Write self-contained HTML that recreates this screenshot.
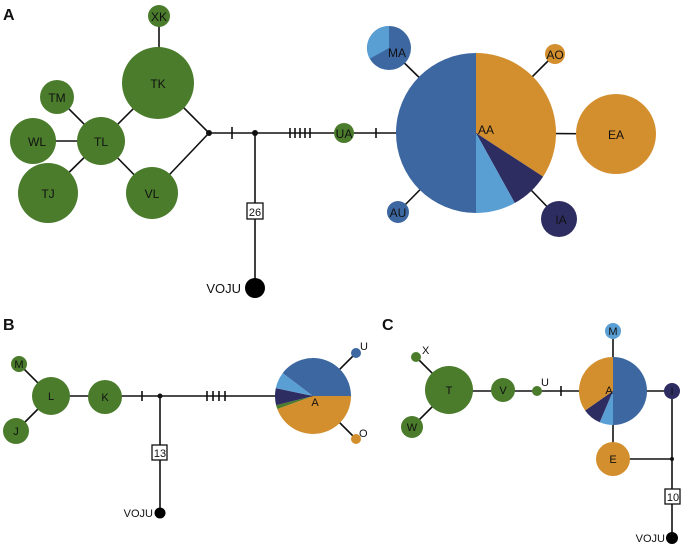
<!DOCTYPE html>
<html><head><meta charset="utf-8"><style>
html,body{margin:0;padding:0;background:#fff;}
svg{display:block;}
text{font-family:"Liberation Sans",Arial,sans-serif;fill:#111;}
</style></head><body>
<svg width="683" height="547" viewBox="0 0 683 547" xmlns="http://www.w3.org/2000/svg">
<g stroke="#111" stroke-width="1.6" fill="none">
<!-- Panel A lines -->
<line x1="159" y1="16" x2="159" y2="82"/>
<line x1="57" y1="97" x2="101" y2="141"/>
<line x1="33" y1="141" x2="101" y2="141"/>
<line x1="48" y1="193" x2="101" y2="141"/>
<line x1="101" y1="141" x2="159" y2="83"/>
<line x1="101" y1="141" x2="152" y2="193"/>
<line x1="159" y1="83" x2="209" y2="133"/>
<line x1="152" y1="193" x2="209" y2="133"/>
<line x1="209" y1="133" x2="476" y2="133"/>
<line x1="255" y1="133" x2="255" y2="288"/>
<line x1="476" y1="133" x2="616" y2="134"/>
<line x1="389" y1="48" x2="476" y2="133"/>
<line x1="555" y1="54" x2="476" y2="133"/>
<line x1="559" y1="219" x2="476" y2="133"/>
<line x1="398" y1="212" x2="476" y2="133"/>
<line x1="232" y1="127" x2="232" y2="139"/>
<line x1="290" y1="128" x2="290" y2="138"/>
<line x1="295" y1="128" x2="295" y2="138"/>
<line x1="300" y1="128" x2="300" y2="138"/>
<line x1="305" y1="128" x2="305" y2="138"/>
<line x1="310" y1="128" x2="310" y2="138"/>
<line x1="376" y1="128" x2="376" y2="138"/>
<!-- Panel B lines -->
<line x1="19" y1="364" x2="51" y2="396"/>
<line x1="16" y1="431" x2="51" y2="396"/>
<line x1="51" y1="396" x2="313" y2="396"/>
<line x1="160" y1="396" x2="160" y2="513"/>
<line x1="356" y1="353" x2="313" y2="396"/>
<line x1="356" y1="439" x2="313" y2="396"/>
<line x1="142" y1="391" x2="142" y2="401"/>
<line x1="207" y1="391" x2="207" y2="401"/>
<line x1="213" y1="391" x2="213" y2="401"/>
<line x1="219" y1="391" x2="219" y2="401"/>
<line x1="225" y1="391" x2="225" y2="401"/>
<!-- Panel C lines -->
<line x1="416" y1="357" x2="449" y2="390"/>
<line x1="412" y1="427" x2="449" y2="390"/>
<line x1="449" y1="391" x2="672" y2="391"/>
<line x1="613" y1="331" x2="613" y2="459"/>
<line x1="613" y1="459" x2="672" y2="459"/>
<line x1="672" y1="391" x2="672" y2="538"/>
<line x1="561" y1="386" x2="561" y2="396"/>
</g>
<!-- Panel A nodes -->
<g fill="#4a7c2c">
<circle cx="159" cy="16" r="11"/>
<circle cx="158" cy="83" r="36"/>
<circle cx="57" cy="97" r="17"/>
<circle cx="101" cy="141" r="24"/>
<circle cx="33" cy="141" r="23"/>
<circle cx="48" cy="193" r="30"/>
<circle cx="152" cy="193" r="26"/>
<circle cx="344" cy="133" r="10"/>
</g>
<circle cx="209" cy="133" r="3" fill="#111"/>
<circle cx="255" cy="133" r="3" fill="#111"/>
<circle cx="255" cy="288" r="10" fill="#000"/>
<rect x="247" y="203" width="16" height="16" fill="#fff" stroke="#111" stroke-width="1.3"/>
<!-- AA pie -->
<path d="M476,133 L476,213 A80,80 0 0 1 476,53 Z" fill="#3d67a0"/>
<path d="M476,133 L476,53 A80,80 0 0 1 543.1,176.6 Z" fill="#d38f2e"/>
<path d="M476,133 L543.1,176.6 A80,80 0 0 1 514.8,203 Z" fill="#2e2d62"/>
<path d="M476,133 L514.8,203 A80,80 0 0 1 476,213 Z" fill="#5a9fd4"/>
<!-- MA -->
<circle cx="389" cy="48" r="22" fill="#3d67a0"/>
<path d="M389,48 L369.8,58.7 A22,22 0 0 1 389,26 Z" fill="#5a9fd4"/>
<circle cx="555" cy="54" r="10" fill="#d38f2e"/>
<circle cx="616" cy="134" r="40" fill="#d38f2e"/>
<circle cx="559" cy="219" r="18" fill="#2e2d62"/>
<circle cx="398" cy="212" r="11" fill="#3d67a0"/>
<!-- Panel B nodes -->
<g fill="#4a7c2c">
<circle cx="19" cy="364" r="8"/>
<circle cx="51" cy="396" r="19"/>
<circle cx="16" cy="431" r="13"/>
<circle cx="105" cy="397" r="17"/>
</g>
<circle cx="160" cy="396" r="2.5" fill="#111"/>
<circle cx="160" cy="513" r="5.5" fill="#000"/>
<rect x="152" y="445" width="15" height="15" fill="#fff" stroke="#111" stroke-width="1.3"/>
<path d="M313,396 L351,396 A38,38 0 0 1 277.3,409 Z" fill="#d38f2e"/>
<path d="M313,396 L277.3,409 A38,38 0 0 1 276.1,405.2 Z" fill="#4a7c2c"/>
<path d="M313,396 L276.1,405.2 A38,38 0 0 1 275.8,388.1 Z" fill="#2e2d62"/>
<path d="M313,396 L275.8,388.1 A38,38 0 0 1 282.7,373.1 Z" fill="#5a9fd4"/>
<path d="M313,396 L282.7,373.1 A38,38 0 0 1 351,396 Z" fill="#3d67a0"/>
<circle cx="356" cy="353" r="5" fill="#3d67a0"/>
<circle cx="356" cy="439" r="5" fill="#d38f2e"/>
<!-- Panel C nodes -->
<g fill="#4a7c2c">
<circle cx="416" cy="357" r="5"/>
<circle cx="449" cy="390" r="24"/>
<circle cx="412" cy="427" r="11"/>
<circle cx="503" cy="390" r="12"/>
<circle cx="537" cy="391" r="5"/>
</g>
<path d="M613,391 L613,357 A34,34 0 0 1 613,425 Z" fill="#3d67a0"/>
<path d="M613,391 L613,425 A34,34 0 0 1 599.7,422.3 Z" fill="#5a9fd4"/>
<path d="M613,391 L599.7,422.3 A34,34 0 0 1 585.1,410.5 Z" fill="#2e2d62"/>
<path d="M613,391 L585.1,410.5 A34,34 0 0 1 613,357 Z" fill="#d38f2e"/>
<circle cx="613" cy="331" r="8" fill="#5a9fd4"/>
<circle cx="672" cy="391" r="8" fill="#2e2d62"/>
<circle cx="613" cy="459" r="17" fill="#d38f2e"/>
<circle cx="672" cy="459" r="2" fill="#111"/>
<circle cx="672" cy="538" r="6" fill="#000"/>
<rect x="665" y="489" width="15" height="15" fill="#fff" stroke="#111" stroke-width="1.3"/>
<!-- Labels -->
<g font-weight="bold" font-size="16">
<text x="3" y="20">A</text>
<text x="3" y="330">B</text>
<text x="382" y="330">C</text>
</g>
<g font-size="12" text-anchor="middle">
<text x="159" y="21">XK</text>
<text x="158" y="88">TK</text>
<text x="57" y="102">TM</text>
<text x="101" y="146">TL</text>
<text x="37" y="146">WL</text>
<text x="48" y="198">TJ</text>
<text x="152" y="198">VL</text>
<text x="344" y="138">UA</text>
<text x="486" y="134">AA</text>
<text x="397" y="57">MA</text>
<text x="555" y="59">AO</text>
<text x="616" y="139">EA</text>
<text x="561" y="224">IA</text>
<text x="398" y="217">AU</text>
<text x="255" y="216" font-size="11">26</text>
<text x="160" y="457" font-size="11">13</text>
<text x="673" y="501" font-size="11">10</text>
</g>
<g font-size="11" text-anchor="middle">
<text x="19" y="368">M</text>
<text x="51" y="400">L</text>
<text x="16" y="435">J</text>
<text x="105" y="401">K</text>
<text x="315" y="406">A</text>
<text x="449" y="394">T</text>
<text x="412" y="431">W</text>
<text x="503" y="394">V</text>
<text x="609" y="394">A</text>
<text x="613" y="335">M</text>
<text x="672" y="395">I</text>
<text x="613" y="463">E</text>
</g>
<g font-size="11">
<text x="360" y="350">U</text>
<text x="359" y="437">O</text>
<text x="422" y="354">X</text>
<text x="541" y="386">U</text>
</g>
<g text-anchor="end">
<text x="241" y="293" font-size="13">VOJU</text>
<text x="153" y="517" font-size="11">VOJU</text>
<text x="665" y="542" font-size="11">VOJU</text>
</g>
</svg>
</body></html>
